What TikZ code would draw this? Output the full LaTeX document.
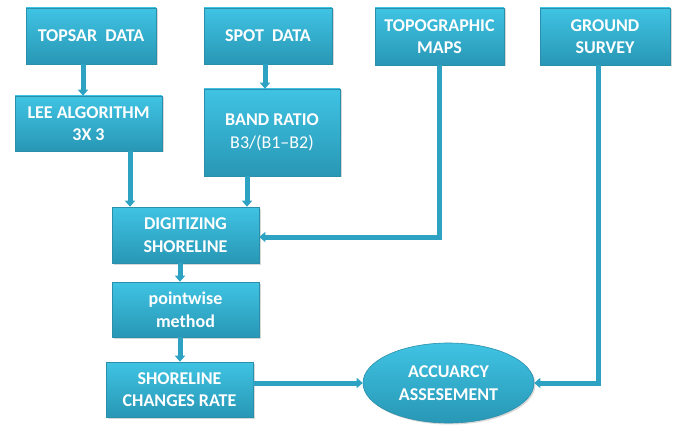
\documentclass[tikz,border=0pt]{standalone}
\usepackage{fontspec}
\setmainfont{Carlito}
\usetikzlibrary{shapes.geometric,shadows,arrows.meta}

\definecolor{boxtop}{HTML}{40C3E3}
\definecolor{boxbot}{HTML}{2897B5}
\definecolor{boxedge}{HTML}{2A8FAB}
\definecolor{linkcol}{HTML}{2EA2C2}

\tikzset{
  flowbox/.style={rectangle, inner sep=0pt, align=center, text=white,
    top color=boxtop, bottom color=boxbot, draw=boxedge, line width=0.6pt,
    font=\fontsize{18}{22.5}\selectfont\bfseries,
    drop shadow={shadow xshift=1.5pt, shadow yshift=-1.5pt, opacity=0.3}},
  flowoval/.style={flowbox, ellipse},
  link/.style={draw=linkcol, line width=5pt,
    -{Triangle[width=10pt,length=6pt]}}
}

\begin{document}
\begin{tikzpicture}[x=1pt, y=-1pt]
\useasboundingbox[fill=white] (0,0) rectangle (675,425);

% top row: data sources
\node[flowbox, minimum width=130pt, minimum height=56pt] (topsar) at (91,36) {TOPSAR\hspace{0.45em}DATA};
\node[flowbox, minimum width=128pt, minimum height=56pt] (spot) at (268,36) {SPOT\hspace{0.45em}DATA};
\node[flowbox, minimum width=129pt, minimum height=57pt] (topo) at (439.5,36.5) {TOPOGRAPHIC\\MAPS};
\node[flowbox, minimum width=130pt, minimum height=57pt] (ground) at (605,36.5) {GROUND\\SURVEY};

% preprocessing
\node[flowbox, minimum width=147pt, minimum height=55pt] (lee) at (88.5,123.5) {LEE ALGORITHM\\3X 3};
\node[flowbox, minimum width=136pt, minimum height=87pt] (band) at (272,132.5) {BAND RATIO\\\mdseries B3/(B1--B2)};

% main chain
\node[flowbox, minimum width=147pt, minimum height=56pt] (dig) at (185.5,235) {DIGITIZING\\SHORELINE};
\node[flowbox, minimum width=147pt, minimum height=55pt] (pw) at (185.5,309.5) {pointwise\\method};
\node[flowbox, minimum width=147pt, minimum height=55pt] (scr) at (179.5,389.5) {SHORELINE\\CHANGES RATE};
\node[flowoval, minimum width=171pt, minimum height=80pt] (acc) at (448.5,383) {ACCUARCY\\ASSESEMENT};

% connector columns
\coordinate (c1) at (83,0);
\coordinate (c2) at (265,0);
\coordinate (c3) at (130,0);
\coordinate (c4) at (247,0);
\coordinate (c5) at (598,0);
\coordinate (c6) at (180,0);
\coordinate (c7) at (0,237);

\draw[link] (topsar.south -| c1) -- (lee.north -| c1);
\draw[link] (spot.south -| c2) -- (band.north -| c2);
\draw[link] (lee.south -| c3) -- (dig.north -| c3);
\draw[link] (band.south -| c4) -- (dig.north -| c4);
\draw[link] (topo.south) |- (dig.east |- c7);
\draw[link] (ground.south -| c5) |- (acc.east);
\draw[link] (dig.south -| c6) -- (pw.north -| c6);
\draw[link] (pw.south -| c6) -- (scr.north -| c6);
\draw[link] (scr.east |- acc.west) -- (acc.west);
\end{tikzpicture}
\end{document}
